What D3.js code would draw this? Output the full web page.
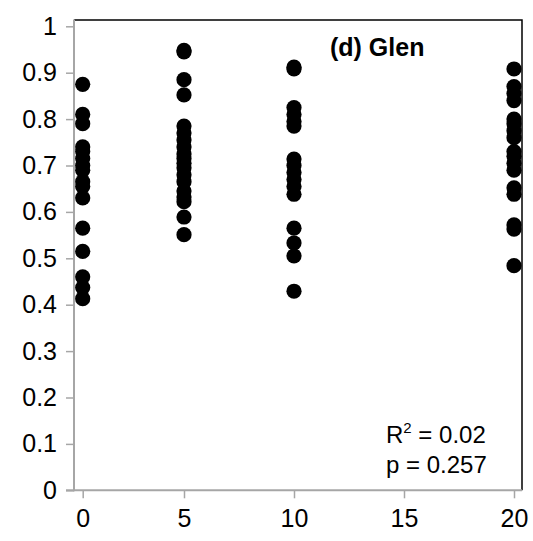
<!DOCTYPE html>
<html><head><meta charset="utf-8">
<script src="https://cdn.jsdelivr.net/npm/d3@7"></script>
<style>body{margin:0;background:#fff}svg{display:block}text{font-family:"Liberation Sans",Arial,sans-serif}</style>
</head><body>
<svg id="c" width="533" height="541"></svg>
<script>
// ---- data ----
const xGroups = [0, 5, 10, 20];
const glen0  = [0.875, 0.81, 0.79, 0.74, 0.73, 0.715, 0.70, 0.69, 0.665, 0.655, 0.63, 0.565, 0.515, 0.46, 0.437, 0.413];
const glen5  = [0.948, 0.945, 0.885, 0.852, 0.785, 0.77, 0.755, 0.74, 0.725, 0.715, 0.705, 0.695, 0.68, 0.665, 0.645, 0.632, 0.622, 0.589, 0.551];
const glen10 = [0.912, 0.908, 0.825, 0.81, 0.795, 0.785, 0.714, 0.70, 0.685, 0.67, 0.655, 0.638, 0.565, 0.533, 0.505, 0.429];
const glen20 = [0.908, 0.87, 0.855, 0.84, 0.80, 0.79, 0.775, 0.76, 0.73, 0.72, 0.705, 0.69, 0.652, 0.638, 0.572, 0.563, 0.484];
const xTicks = [0, 5, 10, 15, 20];
const yTicks = [0, 0.1, 0.2, 0.3, 0.4, 0.5, 0.6, 0.7, 0.8, 0.9, 1];
const panelTitle = "(d) Glen";
const r2Text = "0.02";
const pText = "0.257";

(function () {
const series = [glen0, glen5, glen10, glen20];
const points = [];
series.forEach((vals, i) => vals.forEach(v => points.push({x: xGroups[i], y: v})));

const svg = d3.select("#c");
const x = d3.scaleLinear().domain([0, 5, 20]).range([82.7, 184, 514]);
const y = d3.scaleLinear().domain([0, 1]).range([490.3, 26.3]);
const pL = 74, pR = 522, pT = 20, pB = 490.3;

// plot border (top/right black)
svg.append("path").attr("d", `M${pL},${pT}H${pR}V${pB}`)
  .attr("fill", "none").attr("stroke", "#000").attr("stroke-width", 1.5);

// y axis
const gy = svg.append("g").attr("transform", `translate(${pL},0)`)
  .call(d3.axisLeft(y).tickValues(yTicks).tickSize(8).tickPadding(9)
    .tickFormat(d => d3.format("~g")(d)));
gy.select(".domain").remove();
gy.append("line").attr("x1", 0).attr("x2", 0).attr("y1", pT - 0.5).attr("y2", pB + 1)
  .attr("stroke", "#a6a6a6").attr("stroke-width", 2);
gy.selectAll(".tick line").attr("stroke", "#a6a6a6").attr("stroke-width", 1.5);
gy.selectAll(".tick text").attr("font-size", 25).attr("fill", "#000")
  .attr("font-family", '"Liberation Sans",Arial,sans-serif');

// x axis
const gx = svg.append("g").attr("transform", `translate(0,${pB})`)
  .call(d3.axisBottom(x).tickValues(xTicks).tickSize(8).tickPadding(11));
gx.select(".domain").remove();
gx.append("line").attr("x1", 66).attr("x2", pR).attr("y1", 0).attr("y2", 0)
  .attr("stroke", "#a6a6a6").attr("stroke-width", 2);
gx.selectAll(".tick line").attr("stroke", "#a6a6a6").attr("stroke-width", 1.5);
gx.selectAll(".tick text").attr("font-size", 25).attr("fill", "#000")
  .attr("font-family", '"Liberation Sans",Arial,sans-serif');

// points
svg.append("g").selectAll("circle").data(points).join("circle")
  .attr("cx", d => x(d.x)).attr("cy", d => y(d.y)).attr("r", 7.6).attr("fill", "#000");

// annotations
svg.append("text").attr("x", 330).attr("y", 56).attr("font-size", 25).attr("font-weight", "bold")
  .text(panelTitle);
const rt = svg.append("text").attr("x", 386).attr("y", 443).attr("font-size", 24);
rt.append("tspan").text("R");
rt.append("tspan").attr("font-size", 15).attr("dy", -10).text("2");
rt.append("tspan").attr("dy", 10).text(" = " + r2Text);
svg.append("text").attr("x", 386).attr("y", 473).attr("font-size", 24).text("p = " + pText);
})();
</script>
</body></html>
